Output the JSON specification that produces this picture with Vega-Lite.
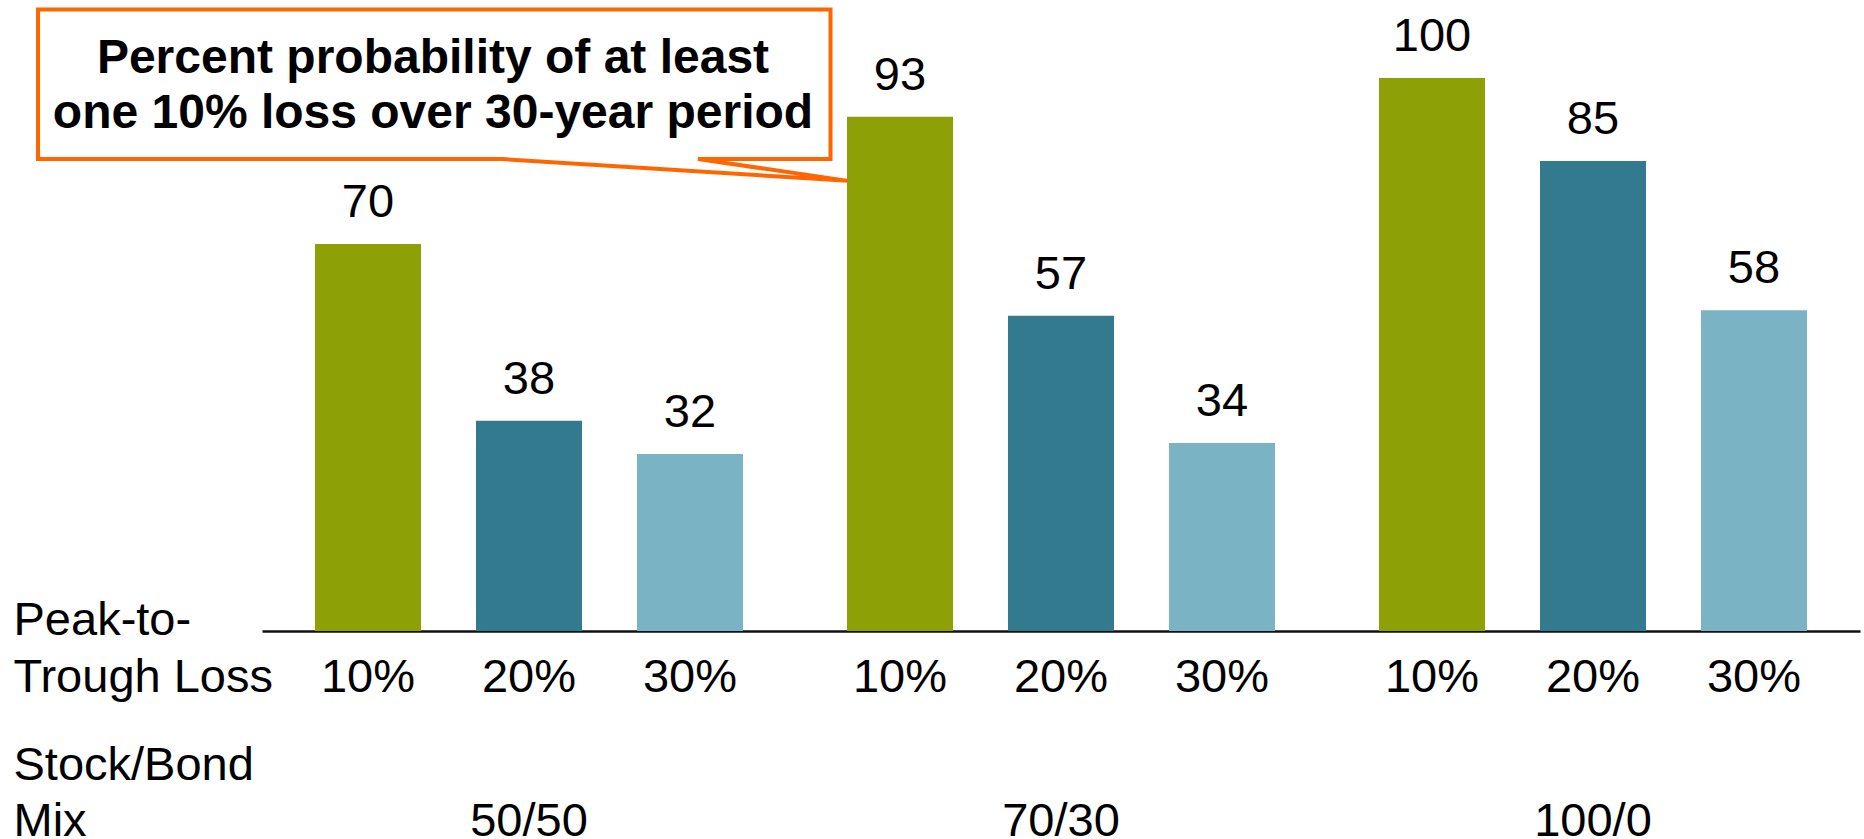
{
  "$schema": "https://vega.github.io/schema/vega-lite/v6.json",
  "width": 1598,
  "height": 553,
  "autosize": "none",
  "padding": {"left": 262, "top": 78, "right": 4, "bottom": 208},
  "background": "white",
  "config": {
    "view": {"stroke": null},
    "font": "Liberation Sans",
    "text": {"font": "Liberation Sans"}
  },
  "resolve": {
    "scale": {"x": "independent", "y": "independent"},
    "axis": {"x": "independent", "y": "independent"}
  },
  "layer": [
    {
      "data": {
        "values": [
          {"mix": "50/50", "loss": "10%", "value": 70},
          {"mix": "50/50", "loss": "20%", "value": 38},
          {"mix": "50/50", "loss": "30%", "value": 32},
          {"mix": "70/30", "loss": "10%", "value": 93},
          {"mix": "70/30", "loss": "20%", "value": 57},
          {"mix": "70/30", "loss": "30%", "value": 34},
          {"mix": "100/0", "loss": "10%", "value": 100},
          {"mix": "100/0", "loss": "20%", "value": 85},
          {"mix": "100/0", "loss": "30%", "value": 58}
        ]
      },
      "encoding": {
        "x": {
          "field": "mix",
          "type": "nominal",
          "sort": ["50/50", "70/30", "100/0"],
          "scale": {"paddingInner": 0.1955, "paddingOuter": 0.0996},
          "axis": {
            "title": ["Stock/Bond", "Mix"],
            "titleX": -249,
            "titleY": 148,
            "titleAlign": "left",
            "titleAnchor": "start",
            "titleBaseline": "alphabetic",
            "titleAngle": 0,
            "titleFontSize": 47,
            "titleFontWeight": "normal",
            "titleLineHeight": 56,
            "titleColor": "black",
            "titleFont": "Liberation Sans",
            "labelAngle": 0,
            "labelFontSize": 47,
            "labelColor": "black",
            "labelFont": "Liberation Sans",
            "labelBaseline": "alphabetic",
            "labelPadding": 204,
            "ticks": false,
            "tickSize": 0,
            "grid": false,
            "domainColor": "#111111",
            "domainWidth": 2.5
          }
        },
        "xOffset": {
          "field": "loss",
          "type": "nominal",
          "sort": ["10%", "20%", "30%"],
          "scale": {"paddingInner": 0.3416, "paddingOuter": 0}
        },
        "y": {
          "field": "value",
          "type": "quantitative",
          "scale": {"domain": [0, 100], "nice": false, "zero": true},
          "axis": {
            "title": ["Peak-to-", "Trough Loss"],
            "titleX": -249,
            "titleY": 556,
            "titleAlign": "left",
            "titleAnchor": "start",
            "titleBaseline": "alphabetic",
            "titleAngle": 0,
            "titleFontSize": 47,
            "titleFontWeight": "normal",
            "titleLineHeight": 57,
            "titleColor": "black",
            "titleFont": "Liberation Sans",
            "labels": false,
            "ticks": false,
            "domain": false,
            "grid": false
          }
        }
      },
      "layer": [
        {
          "mark": {"type": "bar"},
          "encoding": {
            "color": {
              "field": "loss",
              "type": "nominal",
              "scale": {"domain": ["10%", "20%", "30%"], "range": ["#8DA106", "#347A8F", "#7AB3C4"]},
              "legend": null
            }
          }
        },
        {
          "mark": {"type": "text", "fontSize": 47, "baseline": "alphabetic", "align": "center", "dy": -27, "color": "black"},
          "encoding": {"text": {"field": "value", "type": "quantitative"}}
        },
        {
          "mark": {"type": "text", "fontSize": 47, "baseline": "alphabetic", "align": "center", "dy": 60.5, "color": "black"},
          "encoding": {
            "y": {"datum": 0, "type": "quantitative"},
            "text": {"field": "loss", "type": "nominal"}
          }
        }
      ]
    },
    {
      "layer": [
        {
          "data": {
            "values": [
              {"i": 0, "u": -0.4205, "v": 112.4},
              {"i": 1, "u": 1.0673, "v": 112.4},
              {"i": 2, "u": 1.0673, "v": 85.35},
              {"i": 3, "u": 0.8185, "v": 85.35},
              {"i": 4, "u": 1.1001, "v": 81.4},
              {"i": 5, "u": 0.4506, "v": 85.35},
              {"i": 6, "u": -0.4205, "v": 85.35},
              {"i": 7, "u": -0.4205, "v": 112.4}
            ]
          },
          "mark": {"type": "line", "color": "#FF6600", "strokeWidth": 4, "strokeCap": "square", "strokeJoin": "miter"},
          "encoding": {
            "x": {"field": "u", "type": "quantitative", "scale": {"domain": [0, 3], "nice": false, "zero": false}, "axis": null},
            "y": {"field": "v", "type": "quantitative", "scale": {"domain": [0, 100], "nice": false, "zero": false}, "axis": null},
            "order": {"field": "i", "type": "quantitative"}
          }
        },
        {
          "data": {
            "values": [
              {"u": 0.321, "v": 100.85, "t": "Percent probability of at least"},
              {"u": 0.321, "v": 90.9, "t": "one 10% loss over 30-year period"}
            ]
          },
          "mark": {"type": "text", "fontSize": 48, "fontWeight": "bold", "baseline": "alphabetic", "align": "center", "color": "black"},
          "encoding": {
            "x": {"field": "u", "type": "quantitative", "scale": {"domain": [0, 3], "nice": false, "zero": false}, "axis": null},
            "y": {"field": "v", "type": "quantitative", "scale": {"domain": [0, 100], "nice": false, "zero": false}, "axis": null},
            "text": {"field": "t", "type": "nominal"}
          }
        }
      ]
    }
  ]
}
